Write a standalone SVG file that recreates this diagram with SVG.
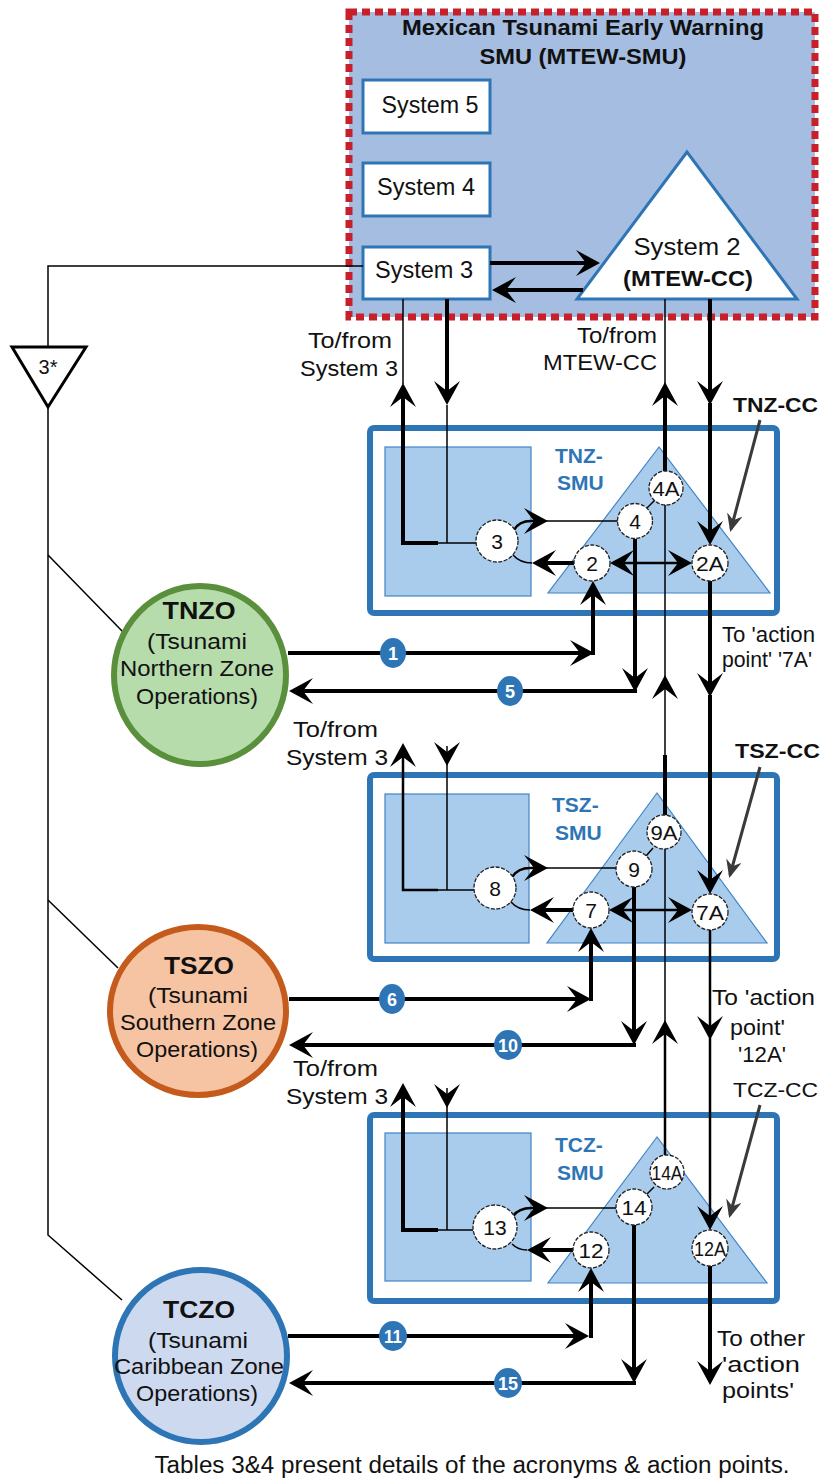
<svg xmlns="http://www.w3.org/2000/svg" width="822" height="1480" viewBox="0 0 822 1480">
<defs>
<style>
text{font-family:"Liberation Sans",Arial,"DejaVu Sans",sans-serif;fill:#111}
.b{font-weight:bold}
.m{text-anchor:middle}
.thick{stroke:#000;stroke-width:4;fill:none}
.med{stroke:#000;stroke-width:2.5;fill:none}
.thin{stroke:#000;stroke-width:1.5;fill:none}
.box{fill:#fff;stroke:#2e75b6;stroke-width:3}
.smu{fill:#fff;stroke:#2e75b6;stroke-width:6}
.inner{fill:#a9cbec;stroke:#4185c7;stroke-width:1.2}
.ap{fill:#fff;stroke:#222;stroke-width:1.3;stroke-dasharray:4 1.5}
.apt{font-size:21px;text-anchor:middle}
.badge{fill:#2e75b6}
.bt{fill:#fff;font-weight:bold;font-size:18px;text-anchor:middle}
.zl{fill:#2e75b6;font-weight:bold;font-size:21px}
.cc{stroke:#3a3a3a;stroke-width:3;fill:none}
.lbl{font-size:22px}
</style>
<marker id="ah" viewBox="0 0 24 26" refX="20" refY="13" markerWidth="24" markerHeight="26" markerUnits="userSpaceOnUse" orient="auto-start-reverse"><path d="M0,0 L24,13 L0,26 L10,13 Z" fill="#000"/></marker>
<marker id="ag" viewBox="0 0 18 16" refX="15" refY="8" markerWidth="18" markerHeight="16" markerUnits="userSpaceOnUse" orient="auto"><path d="M0,0 L18,8 L0,16 L6,8 Z" fill="#3a3a3a"/></marker>
</defs>
<rect width="822" height="1480" fill="#fff"/>

<g id="mtew-smu">
<rect x="349" y="12" width="466" height="305" fill="#a5bde0" stroke="#c8202a" stroke-width="7" stroke-dasharray="8 5"/>
<text class="b m" x="583" y="35" font-size="22" textLength="362" lengthAdjust="spacingAndGlyphs">Mexican Tsunami Early Warning</text>
<text class="b m" x="583" y="64" font-size="22" textLength="207" lengthAdjust="spacingAndGlyphs">SMU (MTEW-SMU)</text>
</g>
<g id="system5"><rect class="box" x="363" y="80" width="127" height="53"/><text class="m" x="430" y="113" font-size="24" textLength="97" lengthAdjust="spacingAndGlyphs">System 5</text></g>
<g id="system4"><rect class="box" x="363" y="163" width="127" height="53"/><text class="m" x="426" y="195" font-size="24" textLength="98" lengthAdjust="spacingAndGlyphs">System 4</text></g>
<g id="system3"><rect class="box" x="363" y="247" width="127" height="52"/><text class="m" x="424" y="278" font-size="24" textLength="98" lengthAdjust="spacingAndGlyphs">System 3</text></g>
<g id="system2"><polygon points="687,152 577,299 797,299" fill="#fff" stroke="#2e75b6" stroke-width="3" stroke-linejoin="miter"/>
<text class="m" x="687" y="255" font-size="24" textLength="107" lengthAdjust="spacingAndGlyphs">System 2</text>
<text class="b m" x="688" y="286" font-size="22" textLength="130" lengthAdjust="spacingAndGlyphs">(MTEW-CC)</text></g>

<g id="sys3-relay"><polygon points="12,347 86,347 48,407" fill="#fff" stroke="#000" stroke-width="3"/><text class="m" x="48" y="374" font-size="20">3*</text></g>

<g id="tnz-smu">
<rect class="smu" x="370" y="428" width="407" height="185" rx="4"/>
<rect class="inner" x="385" y="447" width="146" height="149"/>
<polygon class="inner" points="659,447 548,593 770,593"/>
<text class="zl" x="555" y="463">TNZ-</text><text class="zl" x="557" y="490">SMU</text>
</g>
<g id="tsz-smu">
<rect class="smu" x="370" y="775" width="407" height="184" rx="4"/>
<rect class="inner" x="385" y="794" width="144" height="149"/>
<polygon class="inner" points="657,793 547,943 767,943"/>
<text class="zl" x="552" y="812">TSZ-</text><text class="zl" x="555" y="840">SMU</text>
</g>
<g id="tcz-smu">
<rect class="smu" x="370" y="1115" width="407" height="186" rx="4"/>
<rect class="inner" x="385" y="1133" width="146" height="148"/>
<polygon class="inner" points="657,1137 548,1283 767,1283"/>
<text class="zl" x="555" y="1152">TCZ-</text><text class="zl" x="557" y="1180">SMU</text>
</g>

<g id="connectors">
<line class="thick" x1="490" y1="263" x2="596" y2="263" marker-end="url(#ah)"/>
<line class="thick" x1="583" y1="290" x2="496" y2="290" marker-end="url(#ah)"/>
<polyline class="thin" points="363,266 48,266 48,347"/>
<polyline class="thin" points="48,407 48,1235 122,1300"/>
<line class="thin" x1="48" y1="555" x2="123" y2="632"/>
<line class="thin" x1="48" y1="900" x2="118" y2="968"/>

<line class="thin" x1="403" y1="299" x2="403" y2="384"/>
<polyline class="thick" points="438,543 403,543 403,387" marker-end="url(#ah)"/>
<line class="thin" x1="438" y1="543" x2="476" y2="543"/>
<line class="thick" x1="447" y1="299" x2="447" y2="401" marker-end="url(#ah)"/>
<line class="thin" x1="447" y1="405" x2="447" y2="543"/>
<path class="med" d="M514,530 Q519,521 531,521 L544,521" marker-end="url(#ah)"/>
<line class="thin" x1="546" y1="521" x2="618" y2="521"/>
<line class="thick" x1="574" y1="563" x2="536" y2="563" marker-end="url(#ah)"/>
<path class="thin" d="M532,563 Q520,563 513,555"/>
<line class="med" x1="614" y1="563" x2="688" y2="563" marker-start="url(#ah)" marker-end="url(#ah)"/>
<line class="thick" x1="635" y1="539" x2="635" y2="688" marker-end="url(#ah)"/>
<line class="thick" x1="637" y1="691" x2="293" y2="691" marker-end="url(#ah)"/>
<line class="thick" x1="288" y1="653" x2="590" y2="653" marker-end="url(#ah)"/>
<line class="thick" x1="593" y1="655" x2="593" y2="585" marker-end="url(#ah)"/>
<line class="thin" x1="665" y1="299" x2="665" y2="384"/>
<line class="thick" x1="665" y1="471" x2="665" y2="386" marker-end="url(#ah)"/>
<line class="thin" x1="665" y1="505" x2="665" y2="678"/>
<line class="thin" x1="647" y1="508" x2="655" y2="500"/>
<line class="thick" x1="710" y1="299" x2="710" y2="401" marker-end="url(#ah)"/>
<line class="thick" x1="710" y1="403" x2="710" y2="541" marker-end="url(#ah)"/>
<line class="thick" x1="710" y1="581" x2="710" y2="693" marker-end="url(#ah)"/>
<line class="thick" x1="710" y1="695" x2="710" y2="890" marker-end="url(#ah)"/>
<line class="cc" x1="760" y1="420" x2="731" y2="529" marker-end="url(#ag)"/>

<polyline class="med" points="438,890 403,890 403,747" marker-end="url(#ah)"/>
<line class="thin" x1="438" y1="890" x2="474" y2="890"/>
<line class="thin" x1="447" y1="746" x2="447" y2="762" marker-end="url(#ah)"/>
<line class="thin" x1="447" y1="764" x2="447" y2="890"/>
<path class="med" d="M512,877 Q518,868 530,868 L544,868" marker-end="url(#ah)"/>
<line class="thin" x1="546" y1="868" x2="616" y2="868"/>
<line class="thick" x1="573" y1="910" x2="534" y2="910" marker-end="url(#ah)"/>
<path class="thin" d="M530,910 Q518,910 511,902"/>
<line class="med" x1="613" y1="910" x2="688" y2="910" marker-start="url(#ah)" marker-end="url(#ah)"/>
<line class="thick" x1="634" y1="887" x2="634" y2="1041" marker-end="url(#ah)"/>
<line class="thick" x1="636" y1="1045" x2="293" y2="1045" marker-end="url(#ah)"/>
<line class="thick" x1="289" y1="999" x2="587" y2="999" marker-end="url(#ah)"/>
<line class="thick" x1="591" y1="1001" x2="591" y2="932" marker-end="url(#ah)"/>
<line class="thick" x1="665" y1="815" x2="665" y2="755"/>
<line class="thin" x1="665" y1="757" x2="665" y2="679" marker-end="url(#ah)"/>
<line class="thin" x1="646" y1="856" x2="653" y2="848"/>
<line class="thin" x1="665" y1="849" x2="665" y2="1022"/>
<line class="med" x1="710" y1="930" x2="710" y2="1036" marker-end="url(#ah)"/>
<line class="med" x1="710" y1="1038" x2="710" y2="1226" marker-end="url(#ah)"/>
<line class="cc" x1="760" y1="767" x2="730" y2="875" marker-end="url(#ag)"/>

<polyline class="thick" points="438,1230 403,1230 403,1087" marker-end="url(#ah)"/>
<line class="thin" x1="438" y1="1230" x2="473" y2="1230"/>
<line class="thin" x1="447" y1="1088" x2="447" y2="1104" marker-end="url(#ah)"/>
<line class="thin" x1="447" y1="1106" x2="447" y2="1230"/>
<path class="med" d="M513,1216 Q519,1208 531,1208 L544,1208" marker-end="url(#ah)"/>
<line class="thin" x1="546" y1="1208" x2="616" y2="1208"/>
<line class="thick" x1="573" y1="1250" x2="531" y2="1250" marker-end="url(#ah)"/>
<path class="thin" d="M527,1250 Q518,1250 512,1244"/>
<line class="thick" x1="634" y1="1225" x2="634" y2="1379" marker-end="url(#ah)"/>
<line class="thick" x1="636" y1="1383" x2="293" y2="1383" marker-end="url(#ah)"/>
<line class="thick" x1="288" y1="1336" x2="585" y2="1336" marker-end="url(#ah)"/>
<line class="thick" x1="591" y1="1338" x2="591" y2="1272" marker-end="url(#ah)"/>
<line class="med" x1="665" y1="1155" x2="665" y2="1024" marker-end="url(#ah)"/>
<line class="thin" x1="646" y1="1195" x2="654" y2="1187"/>
<line class="thick" x1="710" y1="1266" x2="710" y2="1381" marker-end="url(#ah)"/>
<line class="cc" x1="760" y1="1105" x2="730" y2="1215" marker-end="url(#ag)"/>
</g>

<g id="ap-3"><circle class="ap" cx="497" cy="541" r="21"/><text class="apt" x="497" y="549">3</text></g>
<g id="ap-4"><circle class="ap" cx="635" cy="521" r="17.5"/><text class="apt" x="635" y="529">4</text></g>
<g id="ap-4A"><circle class="ap" cx="666" cy="488" r="17"/><text class="apt" x="666" y="496" textLength="27" lengthAdjust="spacingAndGlyphs">4A</text></g>
<g id="ap-2"><circle class="ap" cx="592" cy="563" r="18"/><text class="apt" x="592" y="571">2</text></g>
<g id="ap-2A"><circle class="ap" cx="710" cy="563" r="18"/><text class="apt" x="710" y="571" textLength="28" lengthAdjust="spacingAndGlyphs">2A</text></g>

<g id="ap-8"><circle class="ap" cx="495" cy="888" r="21"/><text class="apt" x="495" y="896">8</text></g>
<g id="ap-9"><circle class="ap" cx="634" cy="869" r="18"/><text class="apt" x="634" y="877">9</text></g>
<g id="ap-9A"><circle class="ap" cx="664" cy="832" r="17"/><text class="apt" x="664" y="840" textLength="27" lengthAdjust="spacingAndGlyphs">9A</text></g>
<g id="ap-7"><circle class="ap" cx="591" cy="910" r="18"/><text class="apt" x="591" y="918">7</text></g>
<g id="ap-7A"><circle class="ap" cx="710" cy="912" r="18"/><text class="apt" x="710" y="920" textLength="28" lengthAdjust="spacingAndGlyphs">7A</text></g>

<g id="ap-13"><circle class="ap" cx="495" cy="1227" r="22"/><text class="apt" x="495" y="1235">13</text></g>
<g id="ap-14"><circle class="ap" cx="634" cy="1207" r="18"/><text class="apt" x="634" y="1215" textLength="25" lengthAdjust="spacingAndGlyphs">14</text></g>
<g id="ap-14A"><circle class="ap" cx="667" cy="1172" r="17"/><text class="apt" x="667" y="1180" textLength="31" lengthAdjust="spacingAndGlyphs">14A</text></g>
<g id="ap-12"><circle class="ap" cx="591" cy="1250" r="18"/><text class="apt" x="591" y="1258" textLength="25" lengthAdjust="spacingAndGlyphs">12</text></g>
<g id="ap-12A"><circle class="ap" cx="710" cy="1248" r="18"/><text class="apt" x="710" y="1256" textLength="32" lengthAdjust="spacingAndGlyphs">12A</text></g>

<g id="tnzo">
<ellipse cx="200" cy="675" rx="86" ry="89" fill="#b6dcac" stroke="#5a8f3c" stroke-width="6"/>
<text class="b m" x="199" y="619" font-size="24" textLength="73" lengthAdjust="spacingAndGlyphs">TNZO</text>
<text class="m lbl" x="197" y="649" textLength="100" lengthAdjust="spacingAndGlyphs">(Tsunami</text>
<text class="m lbl" x="197" y="676" textLength="154" lengthAdjust="spacingAndGlyphs">Northern Zone</text>
<text class="m lbl" x="197" y="704" textLength="122" lengthAdjust="spacingAndGlyphs">Operations)</text>
</g>
<g id="tszo">
<ellipse cx="198" cy="1011" rx="88" ry="84" fill="#f7c4a3" stroke="#c45b1d" stroke-width="6"/>
<text class="b m" x="199" y="974" font-size="24" textLength="70" lengthAdjust="spacingAndGlyphs">TSZO</text>
<text class="m lbl" x="198" y="1003" textLength="100" lengthAdjust="spacingAndGlyphs">(Tsunami</text>
<text class="m lbl" x="198" y="1030" textLength="156" lengthAdjust="spacingAndGlyphs">Southern Zone</text>
<text class="m lbl" x="197" y="1057" textLength="122" lengthAdjust="spacingAndGlyphs">Operations)</text>
</g>
<g id="tczo">
<ellipse cx="201" cy="1356" rx="86" ry="86" fill="#cdd9ef" stroke="#2e75b6" stroke-width="6"/>
<text class="b m" x="199" y="1318" font-size="24" textLength="72" lengthAdjust="spacingAndGlyphs">TCZO</text>
<text class="m lbl" x="198" y="1348" textLength="100" lengthAdjust="spacingAndGlyphs">(Tsunami</text>
<text class="m lbl" x="199" y="1374" textLength="170" lengthAdjust="spacingAndGlyphs">Caribbean Zone</text>
<text class="m lbl" x="197" y="1401" textLength="122" lengthAdjust="spacingAndGlyphs">Operations)</text>
</g>

<g id="badges">
<g id="b1"><ellipse class="badge" cx="393" cy="653" rx="13" ry="15"/><text class="bt" x="393" y="660">1</text></g>
<g id="b5"><ellipse class="badge" cx="510" cy="691" rx="13" ry="15"/><text class="bt" x="510" y="698">5</text></g>
<g id="b6"><ellipse class="badge" cx="392" cy="999" rx="13" ry="15"/><text class="bt" x="392" y="1006">6</text></g>
<g id="b10"><ellipse class="badge" cx="508" cy="1045" rx="14" ry="15"/><text class="bt" x="508" y="1052" textLength="20" lengthAdjust="spacingAndGlyphs">10</text></g>
<g id="b11"><ellipse class="badge" cx="393" cy="1336" rx="14" ry="15"/><text class="bt" x="393" y="1343" textLength="18" lengthAdjust="spacingAndGlyphs">11</text></g>
<g id="b15"><ellipse class="badge" cx="508" cy="1383" rx="14" ry="15"/><text class="bt" x="508" y="1390" textLength="20" lengthAdjust="spacingAndGlyphs">15</text></g>
</g>

<g id="labels">
<text class="lbl" x="308" y="348" textLength="84" lengthAdjust="spacingAndGlyphs">To/from</text>
<text class="lbl" x="300" y="376" textLength="98" lengthAdjust="spacingAndGlyphs">System 3</text>
<text class="lbl" x="577" y="343" textLength="80" lengthAdjust="spacingAndGlyphs">To/from</text>
<text class="lbl" x="543" y="370" textLength="114" lengthAdjust="spacingAndGlyphs">MTEW-CC</text>
<text class="b" x="733" y="412" font-size="21" textLength="85" lengthAdjust="spacingAndGlyphs">TNZ-CC</text>
<text class="lbl" x="722" y="642" textLength="93" lengthAdjust="spacingAndGlyphs">To 'action</text>
<text class="lbl" x="722" y="667" textLength="90" lengthAdjust="spacingAndGlyphs">point' '7A'</text>
<text class="b" x="735" y="758" font-size="21" textLength="85" lengthAdjust="spacingAndGlyphs">TSZ-CC</text>
<text class="lbl" x="293" y="737" textLength="85" lengthAdjust="spacingAndGlyphs">To/from</text>
<text class="lbl" x="286" y="765" textLength="102" lengthAdjust="spacingAndGlyphs">System 3</text>
<text class="lbl" x="712" y="1005" textLength="103" lengthAdjust="spacingAndGlyphs">To 'action</text>
<text class="lbl" x="730" y="1035" textLength="55" lengthAdjust="spacingAndGlyphs">point'</text>
<text class="lbl" x="738" y="1062" textLength="48" lengthAdjust="spacingAndGlyphs">'12A'</text>
<text x="733" y="1097" font-size="21" textLength="85" lengthAdjust="spacingAndGlyphs">TCZ-CC</text>
<text class="lbl" x="293" y="1076" textLength="85" lengthAdjust="spacingAndGlyphs">To/from</text>
<text class="lbl" x="286" y="1104" textLength="102" lengthAdjust="spacingAndGlyphs">System 3</text>
<text class="lbl" x="717" y="1346" textLength="88" lengthAdjust="spacingAndGlyphs">To other</text>
<text class="lbl" x="722" y="1372" textLength="78" lengthAdjust="spacingAndGlyphs">'action</text>
<text class="lbl" x="722" y="1398" textLength="72" lengthAdjust="spacingAndGlyphs">points'</text>
<text class="m" x="472" y="1473" font-size="23" textLength="635" lengthAdjust="spacingAndGlyphs">Tables 3&amp;4 present details of the acronyms &amp; action points.</text>
</g>
</svg>
